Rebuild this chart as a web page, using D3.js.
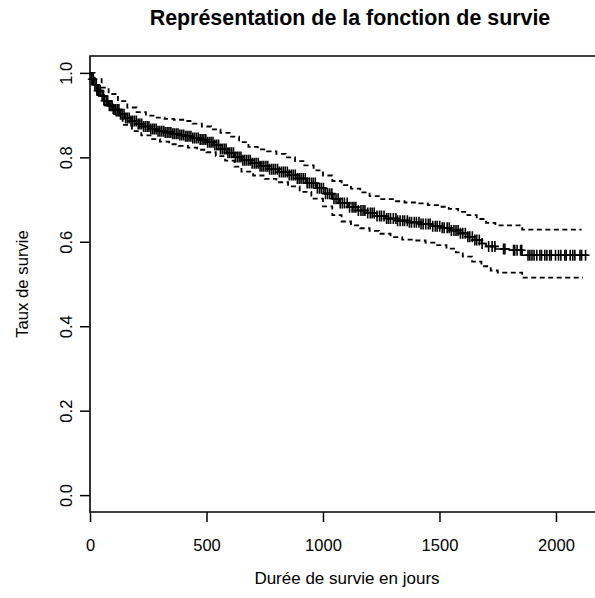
<!DOCTYPE html>
<html>
<head>
<meta charset="utf-8">
<script src="https://cdn.jsdelivr.net/npm/d3@7"></script>
<style>
  body { margin: 0; background: #fff; }
  text { font-family: "Liberation Sans", Arial, sans-serif; fill: #000; }
</style>
</head>
<body>
<div id="plot-area"></div>
<script>
// Kaplan-Meier survival curve with confidence band

// Survival estimate (step after each time)
const survTime = [0, 5, 15, 30, 45, 60, 80, 100, 125, 150, 175, 200, 230, 260, 290, 320, 350, 380,
  410, 440, 470, 500, 530, 560, 590, 620, 650, 690, 730, 770, 810, 850, 890, 930, 970, 1010, 1040,
  1070, 1110, 1150, 1190, 1230, 1270, 1320, 1370, 1420, 1470, 1510, 1550, 1590, 1620, 1650, 1680,
  1700, 1740, 1800, 1855, 2140];
const survValue = [1.0, 0.985, 0.972, 0.958, 0.945, 0.934, 0.922, 0.913, 0.902, 0.893, 0.886, 0.879,
  0.873, 0.867, 0.862, 0.859, 0.856, 0.853, 0.850, 0.846, 0.842, 0.836, 0.829, 0.820, 0.811, 0.801,
  0.793, 0.786, 0.779, 0.772, 0.765, 0.758, 0.750, 0.739, 0.727, 0.714, 0.702, 0.692, 0.682, 0.674,
  0.668, 0.661, 0.655, 0.650, 0.646, 0.642, 0.637, 0.633, 0.627, 0.620, 0.612, 0.604, 0.596, 0.589,
  0.583, 0.580, 0.568, 0.568];

// Upper confidence limit
const upperTime = [0, 20, 50, 80, 120, 160, 200, 240, 280, 320, 360, 400, 440, 480, 520, 560, 600,
  640, 680, 720, 760, 800, 840, 880, 920, 960, 1000, 1040, 1080, 1120, 1160, 1200, 1250, 1300, 1350,
  1400, 1450, 1500, 1540, 1580, 1620, 1660, 1700, 1740, 1855, 2110];
const upperValue = [1.0, 0.985, 0.965, 0.950, 0.933, 0.918, 0.907, 0.899, 0.894, 0.891, 0.889, 0.886,
  0.880, 0.873, 0.866, 0.858, 0.849, 0.836, 0.825, 0.819, 0.814, 0.808, 0.800, 0.791, 0.781, 0.769,
  0.757, 0.744, 0.734, 0.726, 0.717, 0.708, 0.701, 0.696, 0.693, 0.691, 0.687, 0.683, 0.678, 0.671,
  0.663, 0.654, 0.645, 0.639, 0.629, 0.629];

// Lower confidence limit
const lowerTime = [0, 10, 30, 60, 100, 140, 180, 220, 260, 300, 340, 380, 420, 460, 500, 540, 580,
  620, 650, 700, 750, 800, 850, 900, 950, 1000, 1040, 1080, 1120, 1160, 1200, 1240, 1290, 1340, 1390,
  1440, 1490, 1530, 1570, 1600, 1640, 1680, 1720, 1750, 1855, 2116];
const lowerValue = [1.0, 0.970, 0.948, 0.925, 0.899, 0.877, 0.862, 0.852, 0.843, 0.837, 0.831, 0.827,
  0.823, 0.818, 0.812, 0.803, 0.792, 0.778, 0.766, 0.757, 0.749, 0.741, 0.731, 0.718, 0.702, 0.684,
  0.663, 0.648, 0.639, 0.632, 0.626, 0.619, 0.611, 0.605, 0.603, 0.598, 0.592, 0.584, 0.575, 0.565,
  0.553, 0.542, 0.532, 0.527, 0.515, 0.515];

// Censored observations (days)
const censorTime = [8, 14, 21, 27, 33, 38, 44, 52, 58, 63, 70, 76, 83, 90, 95, 103, 110, 117, 124,
  131, 138, 146, 153, 160, 168, 176, 183, 191, 199, 207, 214, 222, 230, 238, 246, 253, 261, 269, 276,
  284, 292, 300, 308, 316, 323, 331, 339, 347, 355, 362, 370, 378, 386, 394, 402, 410, 417, 425, 433,
  441, 449, 457, 465, 473, 481, 489, 497, 505, 513, 520, 528, 536, 544, 552, 560, 568, 576, 584, 592,
  600, 608, 616, 624, 632, 640, 648, 656, 664, 672, 680, 688, 696, 705, 713, 722, 730, 738, 746, 755,
  763, 771, 780, 788, 796, 805, 813, 822, 830, 838, 847, 855, 864, 872, 881, 890, 898, 906, 915, 924,
  932, 941, 950, 958, 967, 976, 985, 993, 1002, 1011, 1020, 1029, 1038, 1047, 1056, 1065, 1074, 1083,
  1092, 1104, 1114, 1125, 1133, 1141, 1152, 1163, 1172, 1180, 1192, 1203, 1211, 1220, 1232, 1243,
  1251, 1262, 1273, 1281, 1290, 1302, 1313, 1320, 1331, 1342, 1350, 1362, 1371, 1380, 1392, 1401,
  1412, 1421, 1430, 1441, 1452, 1460, 1471, 1482, 1490, 1501, 1512, 1520, 1533, 1542, 1551, 1562,
  1571, 1580, 1590, 1600, 1611, 1622, 1630, 1641, 1652, 1660, 1671, 1683, 1711, 1726, 1738, 1775,
  1781, 1818, 1823, 1833, 1848, 1853, 1880, 1888, 1897, 1906, 1918, 1931, 1938, 1952, 1961, 1973,
  1980, 1998, 2011, 2021, 2038, 2044, 2061, 2072, 2081, 2103, 2110, 2127];

const xTicks = [0, 500, 1000, 1500, 2000];
const yTicks = [0.0, 0.2, 0.4, 0.6, 0.8, 1.0];

const W = 595, H = 598;
const pL = 90, pR = 600, pT = 56, pB = 512; // plot box edges

const svg = d3.select("#plot-area").
append("svg").
attr("width", W).
attr("height", H);

// Scales
const xScale = d3.scaleLinear().
domain([0, 2189]).
range([pL, pR]);

const yScale = d3.scaleLinear().
domain([-0.04, 1.04]).
range([pB, pT]);

const zip = (ts, vs) => ts.map((t, i) => ({ t: t, s: vs[i] }));
const survData = zip(survTime, survValue);
const upperData = zip(upperTime, upperValue);
const lowerData = zip(lowerTime, lowerValue);

const stepLine = d3.line().
x(d => xScale(d.t)).
y(d => yScale(d.s)).
curve(d3.curveStepAfter);

// Confidence limits (dashed)
svg.selectAll(".ci").
data([upperData, lowerData]).
join("path").
attr("class", "ci").
attr("d", stepLine).
attr("fill", "none").
attr("stroke", "#000").
attr("stroke-width", 1.8).
attr("stroke-dasharray", "5,3.5");

// Survival curve
svg.append("path").
attr("d", stepLine(survData)).
attr("fill", "none").
attr("stroke", "#000").
attr("stroke-width", 1.6);

// Censor marks ("+")
const survAt = t => survValue[d3.bisectRight(survTime, t) - 1];

svg.selectAll(".censor").
data(censorTime).
join("path").
attr("class", "censor").
attr("d", t => {
  const x = xScale(t), y = yScale(survAt(t));
  return `M${x - 4},${y}H${x + 4}M${x},${y - 5.5}V${y + 5.5}`;
}).
attr("stroke", "#000").
attr("stroke-width", 1.6).
attr("fill", "none");

// Plot frame
svg.append("path").
attr("d", `M${pR},${pT}H${pL}V${pB}H${pR}`).
attr("fill", "none").
attr("stroke", "#000").
attr("stroke-width", 1.6);

// Axes
const xAxis = d3.axisBottom(xScale).
tickValues(xTicks).
tickFormat(d3.format("d")).
tickSize(10).
tickPadding(17);

const yAxis = d3.axisLeft(yScale).
tickValues(yTicks).
tickFormat(d3.format(".1f")).
tickSize(10);

const gx = svg.append("g").
attr("transform", `translate(0 ${pB})`).
call(xAxis);

const gy = svg.append("g").
attr("transform", `translate(${pL} 0)`).
call(yAxis);

[gx, gy].forEach(g => {
  g.select(".domain").remove();
  g.selectAll("line").attr("stroke", "#000").attr("stroke-width", 1.5);
  g.selectAll("text").
  attr("font-family", "Liberation Sans, Arial, sans-serif").
  attr("font-size", 16.5).
  attr("fill", "#000");
});

// y labels are parallel to the axis
gy.selectAll("text").
attr("x", null).
attr("dy", null).
attr("text-anchor", "middle").
attr("transform", "translate(-18 0) rotate(-90)").
attr("y", 0);

// Titles
svg.append("text").
attr("x", 350).
attr("y", 25).
attr("text-anchor", "middle").
attr("font-size", 21.4).
attr("font-weight", "bold").
text("Représentation de la fonction de survie");

svg.append("text").
attr("x", 347).
attr("y", 584).
attr("text-anchor", "middle").
attr("font-size", 17).
text("Durée de survie en jours");

svg.append("text").
attr("transform", `translate(28 ${yScale(0.5)}) rotate(-90)`).
attr("text-anchor", "middle").
attr("font-size", 16.7).
text("Taux de survie");
</script>
</body>
</html>
